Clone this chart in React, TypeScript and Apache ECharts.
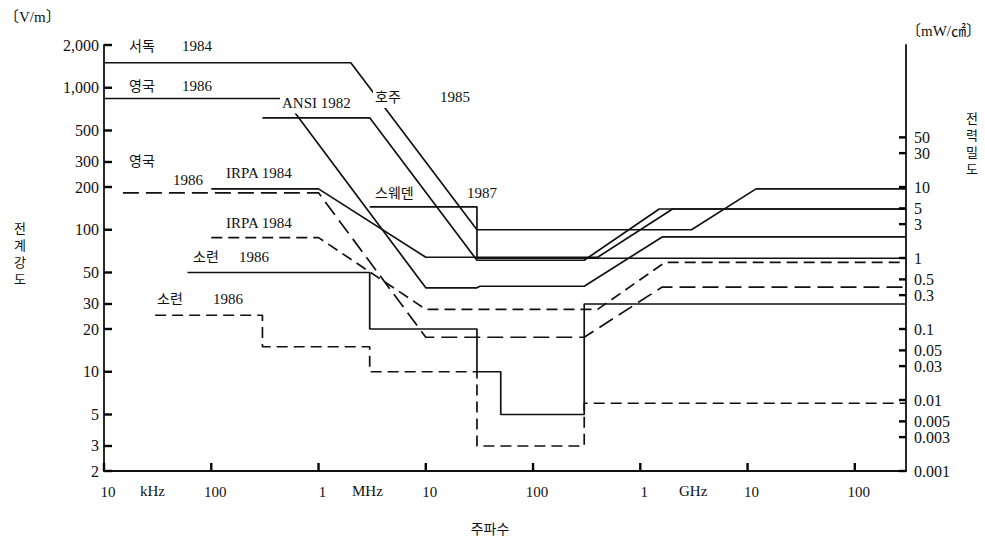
import React, { useEffect, useRef } from "react";
import * as echarts from "echarts";

// ---- axis ticks ----
const freqTickValues = [0.01, 0.1, 1, 10, 100, 1000, 10000, 100000]; // MHz
const freqTickLabels = ["10", "100", "1", "10", "100", "1", "10", "100"];
const freqUnitLabels = ["kHz", "MHz", "GHz"];
const fieldTickValues = [2, 3, 5, 10, 20, 30, 50, 100, 200, 300, 500, 1000, 2000]; // V/m
const fieldTickLabels = ["2", "3", "5", "10", "20", "30", "50", "100", "200", "300", "500", "1,000", "2,000"];
const powerTickValues = [0.001, 0.003, 0.005, 0.01, 0.03, 0.05, 0.1, 0.3, 0.5, 1, 3, 5, 10, 30, 50]; // mW/cm2
const powerTickLabels = ["0.001", "0.003", "0.005", "0.01", "0.03", "0.05", "0.1", "0.3", "0.5", "1", "3", "5", "10", "30", "50"];

// ---- series: [frequency MHz, field strength V/m] ----
const wGermany1984 = [[0.01, 1500], [2, 1500], [30, 100], [3000, 100], [12000, 194], [300000, 194]];
const uk1986Solid = [[0.01, 840], [0.48, 840], [10, 39], [30, 39], [32, 40], [300, 40], [1600, 89], [300000, 89]];
const ansi1982 = [[0.3, 614], [3, 614], [30, 61], [300, 61], [1500, 140], [300000, 140]];
const irpa1984Solid = [[0.1, 194], [1, 194], [10, 64], [400, 64], [2000, 140], [300000, 140]];
const sweden1987 = [[3, 145], [30, 145], [30, 63], [300000, 63]];
const ussr1986Solid = [[0.06, 50], [3, 50], [3, 20], [30, 20], [30, 10], [50, 10], [50, 5], [300, 5], [300, 30], [300000, 30]];
const uk1986Dashed = [[0.015, 182], [1, 182], [10, 17.5], [300, 17.5], [1600, 39.5], [300000, 39.5]];
const irpa1984Dashed = [[0.1, 88], [1, 88], [10, 27.5], [400, 27.5], [1700, 59], [300000, 59]];
const ussr1986Dashed = [[0.03, 25], [0.3, 25], [0.3, 15], [3, 15], [3, 10], [30, 10], [30, 3], [300, 3], [300, 6], [300000, 6]];

const INK = "#111";
const FONT = '"Liberation Serif", "Noto Sans CJK KR", serif';

function txt(text: string, x: number, y: number, extra: any = {}) {
  return {
    type: "text",
    x,
    y,
    z: 50,
    style: {
      text,
      fill: INK,
      fontSize: 15,
      fontFamily: FONT,
      verticalAlign: "middle",
      textVerticalAlign: "middle",
      align: "left",
      textAlign: "left",
      ...extra,
    },
  };
}

function tickRect(x: number, y: number, width: number, height: number) {
  return { type: "rect", z: 100, shape: { x, y, width, height }, style: { fill: "#000" } };
}

function lineSeries(name: string, data: number[][], dashed: any) {
  return {
    name,
    type: "line",
    data,
    symbol: "none",
    showSymbol: false,
    xAxisIndex: 0,
    yAxisIndex: 0,
    z: 3,
    lineStyle: { color: INK, width: 1.7, type: dashed ? dashed : "solid" },
  };
}

export default function App() {
  const ref = useRef<HTMLDivElement>(null);
  useEffect(() => {
    if (!ref.current) return;
    const chart = echarts.init(ref.current, undefined, { renderer: "svg" });
    const axisLine = { show: true, onZero: false, lineStyle: { color: INK, width: 1.8 } };
    const hiddenAxisParts = {
      axisTick: { show: false },
      axisLabel: { show: false },
      splitLine: { show: false },
    };
    const texts: any[] = [
      txt("〔V/m〕", 4, 17),
      txt("〔mW/㎠〕", 906, 31),
      txt("전\n계\n강\n도", 20, 254, { align: "center", textAlign: "center", fontSize: 13, lineHeight: 17 }),
      txt("전\n력\n밀\n도", 972, 144, { align: "center", textAlign: "center", fontSize: 13, lineHeight: 17 }),
      txt("주파수", 490, 529, { align: "center", textAlign: "center", fontSize: 14 }),
      txt(freqUnitLabels[0], 140, 491),
      txt(freqUnitLabels[1], 352, 491),
      txt(freqUnitLabels[2], 679, 491),
      txt("서독", 129, 46, { fontSize: 14 }),
      txt("1984", 182, 46),
      txt("영국", 129, 86, { fontSize: 14 }),
      txt("1986", 182, 86),
      txt("ANSI 1982", 280, 103, { backgroundColor: "#fff", padding: [3, 2, 3, 2] }),
      txt("호주", 373, 97, { fontSize: 14, backgroundColor: "#fff", padding: [4, 2, 4, 2] }),
      txt("1985", 440, 97),
      txt("영국", 129, 161, { fontSize: 14 }),
      txt("1986", 173, 180),
      txt("IRPA 1984", 226, 173),
      txt("스웨덴", 375, 193, { fontSize: 14 }),
      txt("1987", 467, 193),
      txt("IRPA 1984", 226, 223),
      txt("소련", 193, 257, { fontSize: 14 }),
      txt("1986", 239, 257),
      txt("소련", 157, 299, { fontSize: 14 }),
      txt("1986", 213, 299),
    ];
    const option: any = {
      animation: false,
      grid: { left: 104, right: 79, top: 45, bottom: 66 },
      xAxis: { type: "log", logBase: 10, min: 0.01, max: 300000, axisLine, ...hiddenAxisParts },
      yAxis: [
        { type: "log", logBase: 10, min: 2, max: 2000, position: "left", axisLine, ...hiddenAxisParts },
        { type: "log", logBase: 10, min: 0.001, max: 1000, position: "right", axisLine, ...hiddenAxisParts },
      ],
      series: [
        lineSeries("서독 1984", wGermany1984, null),
        lineSeries("영국 1986", uk1986Solid, null),
        lineSeries("ANSI 1982", ansi1982, null),
        lineSeries("IRPA 1984", irpa1984Solid, null),
        lineSeries("스웨덴 1987", sweden1987, null),
        lineSeries("소련 1986", ussr1986Solid, null),
        lineSeries("영국 1986 (점선)", uk1986Dashed, [16, 7]),
        lineSeries("IRPA 1984 (점선)", irpa1984Dashed, [11, 6]),
        lineSeries("소련 1986 (점선)", ussr1986Dashed, [11, 6]),
      ],
    };
    chart.setOption(option);

    // tick marks and tick labels placed through the axes' own scales
    const axisParts: any[] = [];
    freqTickValues.forEach((v, i) => {
      const p = chart.convertToPixel({ xAxisIndex: 0, yAxisIndex: 0 }, [v, 2]) as number[];
      if (!p) return;
      axisParts.push(tickRect(p[0] - 1.2, p[1] - 8, 2.4, 8));
      axisParts.push(txt(freqTickLabels[i], p[0] + 4, p[1] + 21, { align: "center", textAlign: "center" }));
    });
    fieldTickValues.forEach((v, i) => {
      const p = chart.convertToPixel({ xAxisIndex: 0, yAxisIndex: 0 }, [0.01, v]) as number[];
      if (!p) return;
      axisParts.push(tickRect(p[0], p[1] - 1.2, 8, 2.4));
      axisParts.push(txt(fieldTickLabels[i], p[0] - 5, p[1], { align: "right", textAlign: "right", fontSize: 16 }));
    });
    powerTickValues.forEach((v, i) => {
      const p = chart.convertToPixel({ xAxisIndex: 0, yAxisIndex: 1 }, [300000, v]) as number[];
      if (!p) return;
      axisParts.push(tickRect(p[0] - 7, p[1] - 1.2, 7, 2.4));
      axisParts.push(txt(powerTickLabels[i], p[0] + 8, p[1], { fontSize: 16 }));
    });
    chart.setOption({ graphic: [...texts, ...axisParts] });

    return () => chart.dispose();
  }, []);
  return (
    <div
      ref={ref}
      style={{ position: "absolute", left: 0, top: 0, width: 985, height: 537, background: "#fff" }}
    />
  );
}
